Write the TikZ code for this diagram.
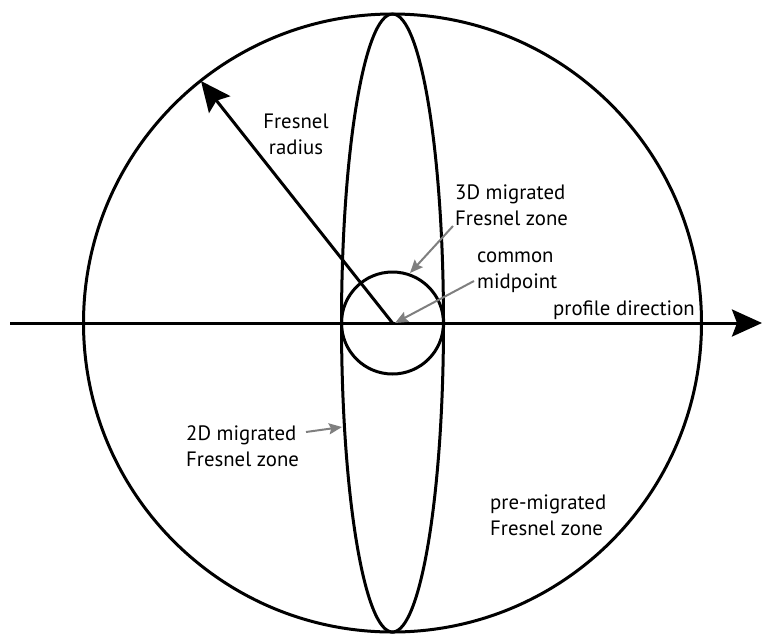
\documentclass[tikz,border=0pt]{standalone}
\usepackage{fontspec}
\setmainfont{PT Sans}
\usetikzlibrary{arrows.meta}
\definecolor{pointer}{HTML}{7F7F7F}
\begin{document}
\begin{tikzpicture}[x=1pt,y=-1pt,
  heavy/.style={line width=3pt,black},
  bigtip/.style={-{Stealth[length=30pt,width=27pt,inset=5pt]}},
  ptr/.style={line width=2pt,pointer,-{Stealth[length=13pt,width=11pt,inset=2pt]}},
  lbl/.style={font=\fontsize{20.8}{25.5}\selectfont,align=left,inner sep=0pt,anchor=base west},
  lblc/.style={font=\fontsize{20.8}{25.5}\selectfont,align=center,inner sep=0pt,anchor=base}]
\useasboundingbox (0,0) rectangle (763,633);
\coordinate (c) at (392.5,323);
\coordinate (axL) at (10,323);
\coordinate (axR) at (762,323);
\coordinate (rtip) at (201,81);
% shapes
\draw[heavy] (c) circle (309);
\draw[heavy] (c) ellipse [x radius=51, y radius=309];
\draw[heavy] (c) circle (51);
\draw[heavy,bigtip] (axL) -- (axR);
\draw[heavy,bigtip] (c) -- (rtip);
% labels (anchor = baseline of last line)
\node[lblc] (fr) at (296,154) {Fresnel\\radius};
\node[lbl] (d3) at (455,225) {3D migrated\\Fresnel zone};
\node[lbl] (cm) at (477,288) {common\\midpoint};
\node[lbl] (pd) at (553,315) {profile direction};
\node[lbl] (d2) at (186,466) {2D migrated\\Fresnel zone};
\node[lbl] (pm) at (490,535) {pre-migrated\\Fresnel zone};
% pointers
\coordinate (s3) at (453,226);
\coordinate (p3) at (410,273);
\coordinate (sc) at (474,281);
\coordinate (pc) at (395,323);
\coordinate (s2) at (306,432);
\coordinate (p2) at (342,427);
\draw[ptr] (s3) -- (p3);
\draw[ptr] (sc) -- (pc);
\draw[ptr] (s2) -- (p2);
\end{tikzpicture}
\end{document}
